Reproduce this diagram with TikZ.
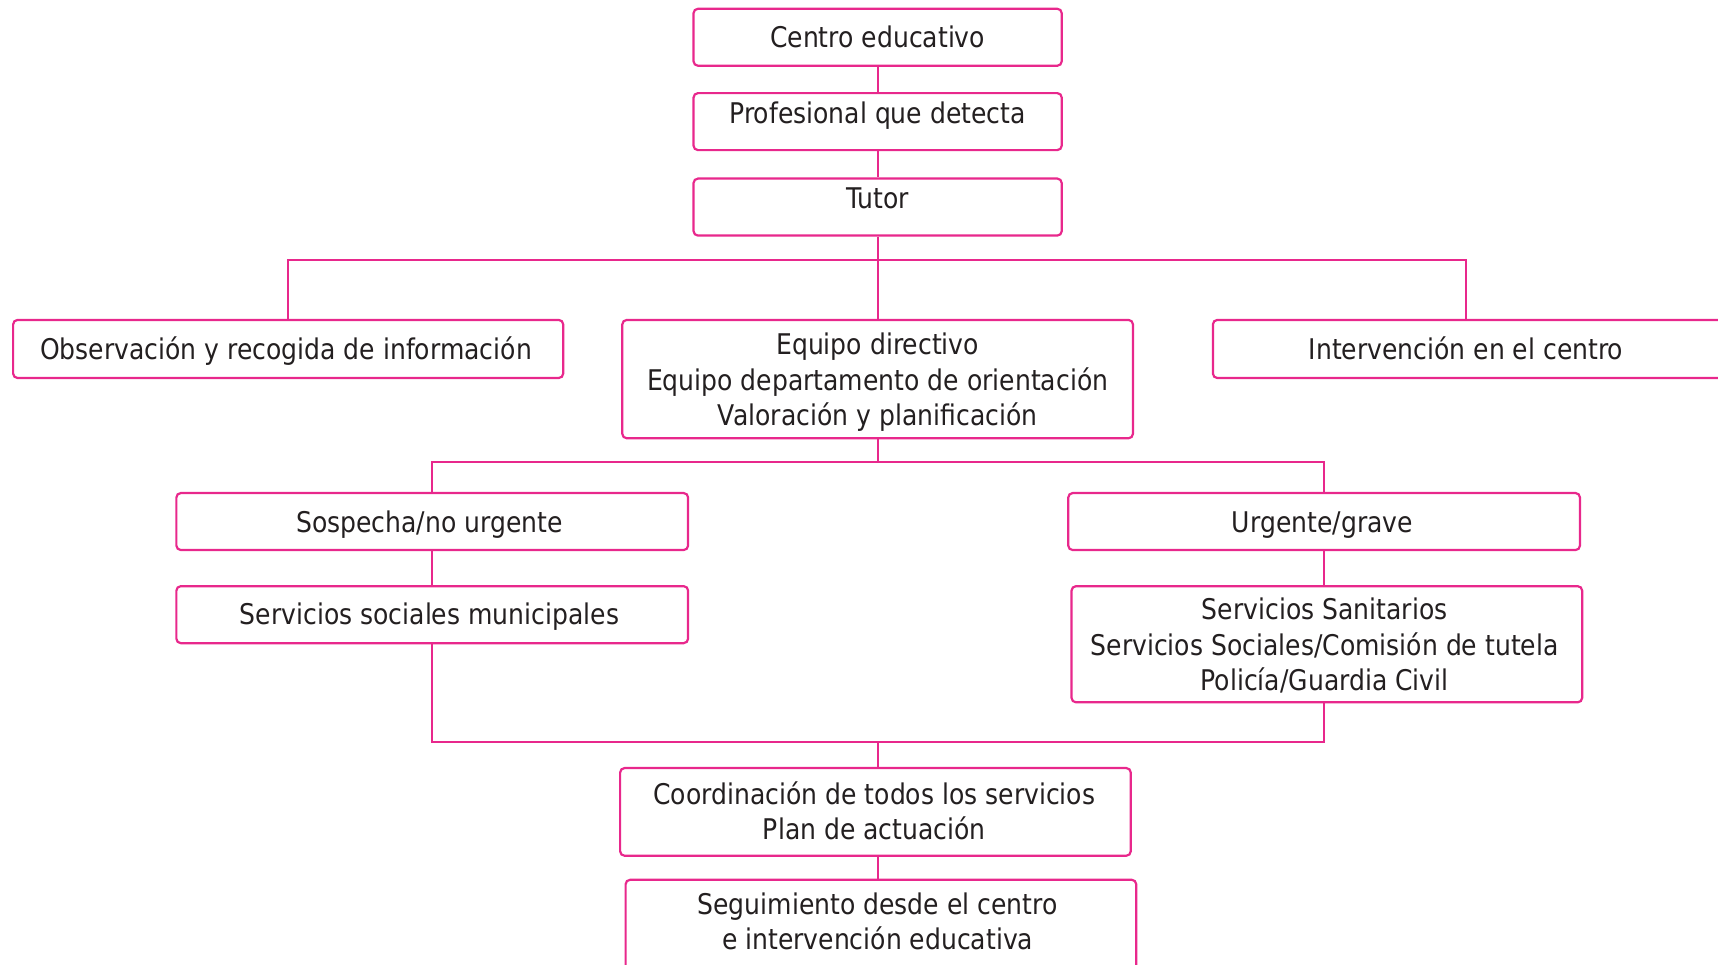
\documentclass[tikz,border=0pt]{standalone}
\usepackage{fontspec}
\setmainfont{DejaVu Sans}[FakeStretch=0.88]
\definecolor{pinkline}{RGB}{232,40,140}
\definecolor{txt}{RGB}{35,31,32}
\begin{document}
\begin{tikzpicture}[x=1pt,y=-1pt,
  box/.style={draw=pinkline,line width=2pt,rounded corners=4pt,rectangle,inner sep=0pt},
  tl/.style={anchor=base,inner sep=0pt,text=txt,font=\fontsize{26}{32}\selectfont},
  conn/.style={draw=pinkline,line width=1.9pt}]
\useasboundingbox (0,0) rectangle (1568,880);
% boxes
\node[box,minimum width=336pt,minimum height=52pt] (cen) at (801,34) {};
\node[box,minimum width=336pt,minimum height=52pt] (prof) at (801,111) {};
\node[box,minimum width=336pt,minimum height=52pt] (tut) at (801,189) {};
\node[box,minimum width=502pt,minimum height=53pt] (obs) at (263,318.5) {};
\node[box,minimum width=466pt,minimum height=108pt] (eq) at (801,346) {};
\node[box,minimum width=483pt,minimum height=53pt] (int) at (1348.5,318.5) {};
\node[box,minimum width=467pt,minimum height=52pt] (sos) at (394.5,476) {};
\node[box,minimum width=467pt,minimum height=52pt] (urg) at (1208.5,476) {};
\node[box,minimum width=467pt,minimum height=52pt] (ssm) at (394.5,561) {};
\node[box,minimum width=466pt,minimum height=106pt] (san) at (1211,588) {};
\node[box,minimum width=466pt,minimum height=80pt] (coo) at (799,741) {};
\node[box,minimum width=466pt,minimum height=97pt] (seg) at (804,851.5) {};
% texts
\node[tl] (cenT) at (801,43) {Centro educativo};
\node[tl] (profT) at (801,113) {Profesional que detecta};
\node[tl] (tutT) at (801,190) {Tutor};
\node[tl] (obsT) at (261,328) {Observación y recogida de información};
\node[tl] (eqT1) at (801,324) {Equipo directivo};
\node[tl] (eqT2) at (801,356) {Equipo departamento de orientación};
\node[tl] (eqT3) at (801,388) {Valoración y planificación};
\node[tl] (intT) at (1338,328) {Intervención en el centro};
\node[tl] (sosT) at (392,486) {Sospecha/no urgente};
\node[tl] (urgT) at (1207,486) {Urgente/grave};
\node[tl] (ssmT) at (392,570) {Servicios sociales municipales};
\node[tl] (sanT1) at (1209,565) {Servicios Sanitarios};
\node[tl] (sanT2) at (1209,598) {Servicios Sociales/Comisión de tutela};
\node[tl] (sanT3) at (1209,630) {Policía/Guardia Civil};
\node[tl] (cooT1) at (798,734) {Coordinación de todos los servicios};
\node[tl] (cooT2) at (798,766) {Plan de actuación};
\node[tl] (segT1) at (801,835) {Seguimiento desde el centro};
\node[tl] (segT2) at (801,867) {e intervención educativa};
% junctions
\coordinate (j1) at (801,237);
\coordinate (j2) at (801,422);
\coordinate (j3) at (801,677);
% connectors
\draw[conn] (cen) -- (prof);
\draw[conn] (prof) -- (tut);
\draw[conn] (tut.south) -- (j1);
\draw[conn] (obs.north) |- (j1) -| (int.north -| intT);
\draw[conn] (j1) -- (eq.north);
\draw[conn] (eq.south) -- (j2);
\draw[conn] (sos.north) |- (j2) -| (urg.north);
\draw[conn] (sos.south) -- (ssm.north);
\draw[conn] (urg.south) -- (urg.south |- san.north);
\draw[conn] (ssm.south) |- (j3) -| (urg.south |- san.south);
\draw[conn] (j3) -- (j3 |- coo.north);
\draw[conn] (j3 |- coo.south) -- (j3 |- seg.north);
\end{tikzpicture}
\end{document}
